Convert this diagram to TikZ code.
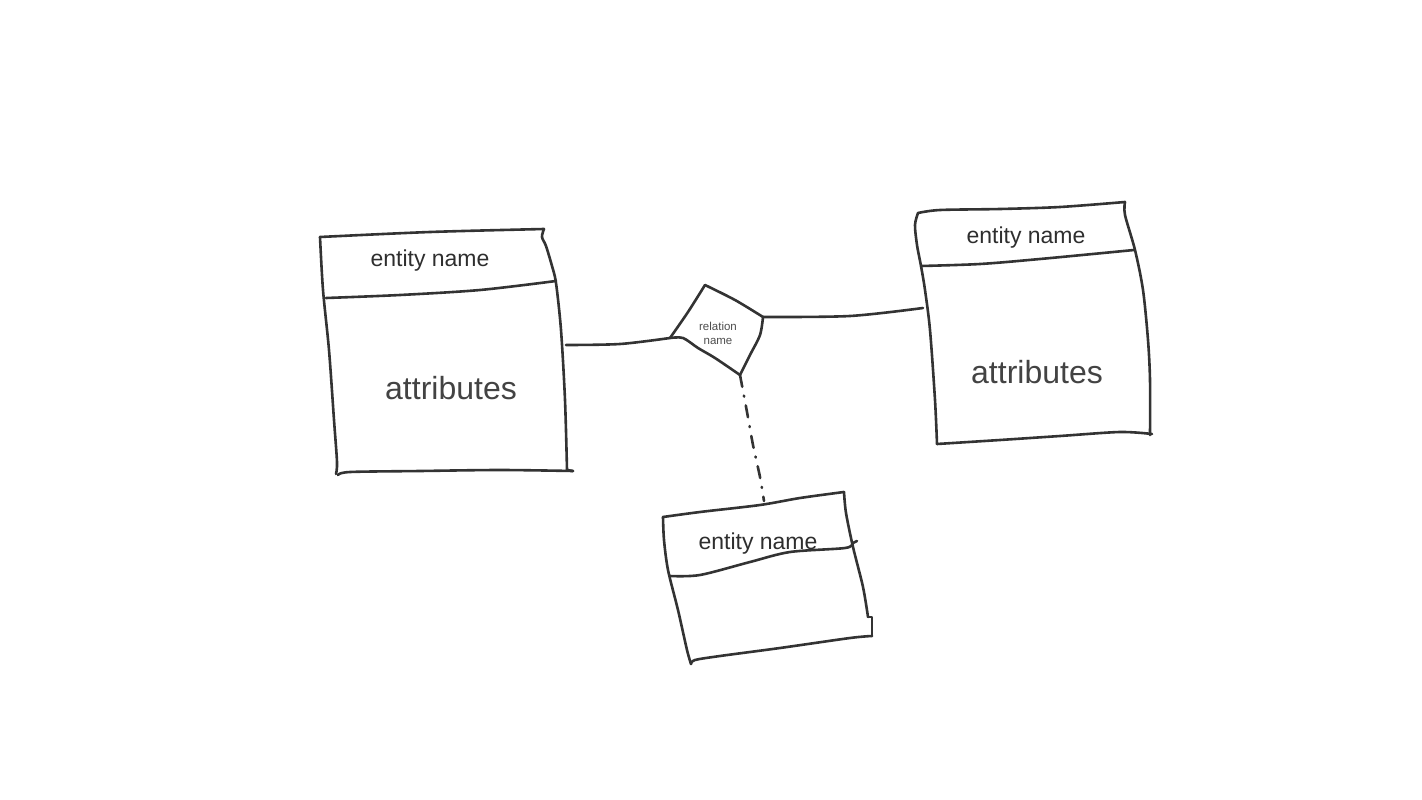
\documentclass[tikz,border=0pt]{standalone}
\usepackage{fontspec}
\setmainfont{Liberation Sans}
\definecolor{ink}{HTML}{333333}
\definecolor{txt}{HTML}{2E2E2E}
\begin{document}
\begin{tikzpicture}[x=1pt,y=-1pt,
  sketch/.style={draw=ink, line width=2.6pt, line cap=round, line join=round},
  enttext/.style={text=txt, inner sep=0pt, font=\fontsize{23}{27}\selectfont},
  attrtext/.style={text=txt!90!white, inner sep=0pt, font=\fontsize{32}{38}\selectfont},
  reltext/.style={text=txt!85!white, inner sep=0pt, align=center, font=\fontsize{11.5}{14}\selectfont},
  dashlink/.style={draw=ink, line width=2.6pt, line cap=round, dash pattern=on 12pt off 9pt on 1pt off 9pt}]
\useasboundingbox (0,0) rectangle (1422,800);

% ---------- left entity ----------
\draw[sketch] plot[smooth, tension=0.5] coordinates {(320,237) (430,232) (544,229)};
\draw[sketch] plot[smooth, tension=0.5] coordinates {(544,229) (542,237) (546,246) (552,266) (556,283) (561,330) (565,400) (567,470)};
\draw[sketch] (567,470) -- (573,471);
\draw[sketch] plot[smooth, tension=0.5] coordinates {(573,471) (500,470) (420,471) (350,472) (338,475)};
\draw[sketch] plot[smooth, tension=0.5] coordinates {(336,474) (337,462) (334,420) (329,350) (323,290) (320,237)};
\draw[sketch] plot[smooth, tension=0.5] coordinates {(326,298) (400,295) (480,290) (556,281)};
\node[enttext] (ln) at (430,261) {entity name};
\node[attrtext] (la) at (451,388) {attributes};
\coordinate (lattach) at (566,345);

% ---------- right entity ----------
\draw[sketch] plot[smooth, tension=0.5] coordinates {(918,213) (940,210) (1000,209) (1060,207) (1125,202)};
\draw[sketch] plot[smooth, tension=0.5] coordinates {(1125,202) (1125,215) (1135,250) (1143,290) (1148,340) (1150,380) (1150,435)};
\draw[sketch] plot[smooth, tension=0.5] coordinates {(1152,434) (1120,432) (1060,436) (1000,440) (937,444)};
\draw[sketch] plot[smooth, tension=0.5] coordinates {(937,444) (935,400) (930,330) (925,290) (921,266) (917,245) (915,225) (918,213)};
\draw[sketch] plot[smooth, tension=0.5] coordinates {(921,266) (980,264) (1040,259) (1134,250)};
\node[enttext] (rn) at (1026,238) {entity name};
\node[attrtext] (ra) at (1037,372) {attributes};
\coordinate (rattach) at (923,308);

% ---------- bottom entity ----------
\draw[sketch] plot[smooth, tension=0.5] coordinates {(663,517) (700,512) (760,505) (800,498) (844,492)};
\draw[sketch] plot[smooth, tension=0.5] coordinates {(844,492) (846,513) (853,547) (863,587) (868,617)};
\draw[sketch] (868,617) -- (872,617) -- (872,636);
\draw[sketch] plot[smooth, tension=0.5] coordinates {(872,636) (850,638) (780,648) (720,656) (695,660) (691,664)};
\draw[sketch] plot[smooth, tension=0.5] coordinates {(691,664) (687,650) (678,610) (668,570) (664,540) (663,517)};
\draw[sketch] plot[smooth, tension=0.5] coordinates {(670,576) (700,575) (750,562) (790,552) (845,548) (853,543) (857,541)};
\node[enttext] (bn) at (758,544) {entity name};
\coordinate (battach) at (764,501);

% ---------- relation ----------
\coordinate (dl) at (670,338);
\coordinate (dt) at (705,285);
\coordinate (dr) at (763,317);
\coordinate (db) at (740,375);
\draw[sketch] plot[smooth, tension=0.5] coordinates {(dl) (688,312) (dt)};
\draw[sketch] plot[smooth, tension=0.5] coordinates {(dt) (735,300) (dr)};
\draw[sketch] plot[smooth, tension=0.5] coordinates {(dr) (760,335) (750,355) (db)};
\draw[sketch] plot[smooth, tension=0.5] coordinates {(db) (715,358) (698,348) (683,338) (dl)};
\node[reltext] (rel) at (718,333) {relation\\name};

% ---------- connectors ----------
\draw[sketch] plot[smooth, tension=0.5] coordinates {(lattach) (620,344) (dl)};
\draw[sketch] plot[smooth, tension=0.5] coordinates {(dr) (850,316) (rattach)};
\draw[dashlink] plot[smooth, tension=0.5] coordinates {(db) (747,412) (753,445) (760,477) (battach)};
\end{tikzpicture}
\end{document}
